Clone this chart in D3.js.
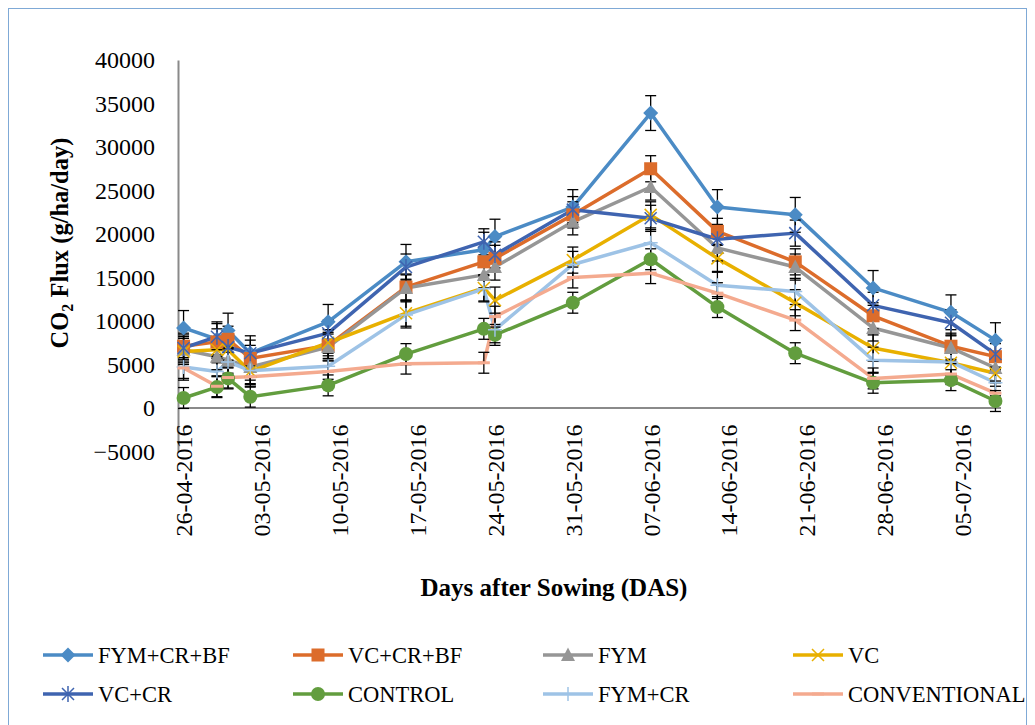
<!DOCTYPE html>
<html>
<head>
<meta charset="utf-8">
<script src="https://cdn.jsdelivr.net/npm/d3@7"></script>
<style>
  html, body { margin: 0; padding: 0; background: #fff; }
  svg { display: block; }
  svg text { font-family: "Liberation Serif", "DejaVu Serif", serif; fill: #000; }
</style>
</head>
<body>
<svg id="chart" width="1035" height="725"></svg>
<script>
// Sampling dates (shared by every treatment)
const dates = ["26-04-2016", "29-04-2016", "30-04-2016", "02-05-2016", "09-05-2016",
  "16-05-2016", "23-05-2016", "24-05-2016", "31-05-2016", "07-06-2016",
  "13-06-2016", "20-06-2016", "27-06-2016", "04-07-2016", "08-07-2016"];

// Axis tick labels
const xTickLabels = ["26-04-2016", "03-05-2016", "10-05-2016", "17-05-2016", "24-05-2016",
  "31-05-2016", "07-06-2016", "14-06-2016", "21-06-2016", "28-06-2016", "05-07-2016"];
const yTicks = [-5000, 0, 5000, 10000, 15000, 20000, 25000, 30000, 35000, 40000];

// Treatment names
const seriesNames = ["FYM+CR+BF", "VC+CR+BF", "FYM", "VC", "VC+CR", "CONTROL", "FYM+CR", "CONVENTIONAL"];

// CO2 flux (g/ha/day) per treatment
const fymCrBf      = [9200, 7900, 8900, 6300, 9900, 16800, 18200, 19700, 23100, 33900, 23100, 22200, 13800, 11000, 7800];
const vcCrBf       = [7100, 7600, 7900, 5700, 7200, 13900, 16800, 17200, 22200, 27500, 20300, 16800, 10600, 7100, 5900];
const fym          = [6700, 5900, 5500, 4700, 7000, 13800, 15300, 16200, 21400, 25400, 18400, 16200, 9200, 6900, 4600];
const vc           = [6500, 6700, 6700, 4200, 7500, 10900, 13800, 12400, 17000, 22200, 17200, 12100, 6900, 5200, 4000];
const vcCr         = [6900, 8200, 7000, 6300, 8600, 16200, 19100, 17600, 22800, 21800, 19400, 20100, 11800, 9800, 6200];
const control      = [1150, 2400, 3400, 1300, 2600, 6200, 9100, 8400, 12100, 17100, 11600, 6300, 2900, 3200, 800];
const fymCr        = [4700, 4200, 5300, 4300, 4800, 10700, 13700, 9000, 16500, 19000, 14100, 13400, 5500, 5300, 2900];
const conventional = [4600, 2500, 3500, 3600, 4200, 5100, 5200, 10500, 15000, 15500, 13200, 10100, 3400, 3900, 1700];

// Error bar half-widths per treatment (g/ha/day)
const errors = [2000, 1500, 1500, 1500, 1500, 1200, 1500, 1200];

const seriesValues = [fymCrBf, vcCrBf, fym, vc, vcCr, control, fymCr, conventional];
const colors = ["#4b8bc5", "#dc6c2b", "#969696", "#e8b000", "#3f64b0", "#629d3e", "#9ec3e6", "#f4aa8f"];
const markers = ["diamond", "square", "triangle", "x", "asterisk", "circle", "plus", "dash"];

const FONT = "'Liberation Serif', 'DejaVu Serif', serif";
const parse = d3.utcParse("%d-%m-%Y");
const fmt = d3.utcFormat("%d-%m-%Y");
const svg = d3.select("#chart");

// Outer frame
svg.append("rect")
  .attr("x", 8.5).attr("y", 8.5).attr("width", 1018).attr("height", 740)
  .attr("fill", "none").attr("stroke", "#7fa9d6").attr("stroke-width", 1);

const firstDay = parse(dates[0]);
const lastDay = parse(dates[dates.length - 1]);
const x = d3.scaleUtc()
  .domain([d3.utcHour.offset(firstDay, -12), d3.utcHour.offset(lastDay, 12)])
  .range([178, 1001]);
const y = d3.scaleLinear().domain([-5000, 40000]).range([451.5, 60]);

// Y axis: line plus labels
const yAxis = svg.append("g").attr("transform", "translate(178,0)")
  .call(d3.axisLeft(y).tickValues(yTicks).tickSize(0).tickPadding(23).tickFormat(d3.format("d")));
yAxis.attr("font-family", FONT).attr("font-size", 24);
yAxis.select(".domain").attr("stroke", "#8a8a8a").attr("stroke-width", 2);
yAxis.selectAll("text").attr("fill", "#000");

// X axis line at zero
svg.append("line")
  .attr("x1", x.range()[0]).attr("x2", x.range()[1])
  .attr("y1", y(0)).attr("y2", y(0))
  .attr("stroke", "#8a8a8a").attr("stroke-width", 2);

// X labels below the plot (rotated)
const xAxis = svg.append("g").attr("transform", `translate(0,${y(-5000) - 27})`)
  .call(d3.axisBottom(x).tickValues(xTickLabels.map(parse)).tickSize(0).tickFormat(fmt));
xAxis.attr("font-family", FONT).attr("font-size", 24);
xAxis.select(".domain").remove();
xAxis.selectAll("text")
  .attr("fill", "#000")
  .attr("transform", "rotate(-90)")
  .attr("text-anchor", "end")
  .attr("x", 0).attr("y", 0).attr("dy", "0.35em");

// Axis titles
svg.append("text")
  .attr("transform", "translate(59,243) rotate(-90)")
  .attr("text-anchor", "middle").attr("dominant-baseline", "central")
  .style("font-size", "24.5px").style("font-weight", "bold")
  .call(t => {
    t.append("tspan").text("CO");
    t.append("tspan").text("2").attr("baseline-shift", "sub").style("font-size", "16px");
    t.append("tspan").text(" Flux (g/ha/day)");
  });

svg.append("text")
  .attr("x", 554).attr("y", 596).attr("text-anchor", "middle")
  .style("font-size", "25px").style("font-weight", "bold")
  .text("Days after Sowing (DAS)");

const series = seriesNames.map((name, i) => ({
  name, color: colors[i], marker: markers[i], err: errors[i],
  points: dates.map((d, j) => ({ date: parse(d), value: seriesValues[i][j] }))
}));

const line = d3.line().x(d => x(d.date)).y(d => y(d.value));

// Lines
svg.append("g").selectAll("path").data(series).join("path")
  .attr("d", s => line(s.points))
  .attr("fill", "none").attr("stroke", s => s.color)
  .attr("stroke-width", 3.5).attr("stroke-linejoin", "round");

// Error bars
const eb = svg.append("g").attr("stroke", "#000").attr("stroke-width", 1.3);
series.forEach(s => {
  s.points.forEach(p => {
    const cx = x(p.date), y1 = y(p.value - s.err), y2 = y(p.value + s.err);
    eb.append("line").attr("x1", cx).attr("x2", cx).attr("y1", y1).attr("y2", y2);
    eb.append("line").attr("x1", cx - 5.5).attr("x2", cx + 5.5).attr("y1", y1).attr("y2", y1);
    eb.append("line").attr("x1", cx - 5.5).attr("x2", cx + 5.5).attr("y1", y2).attr("y2", y2);
  });
});

// Marker drawing
function drawMarker(g, type, color, cx, cy) {
  switch (type) {
    case "diamond":
      g.append("path").attr("d", `M${cx},${cy - 7.5}L${cx + 7.5},${cy}L${cx},${cy + 7.5}L${cx - 7.5},${cy}Z`)
        .attr("fill", color); break;
    case "square":
      g.append("rect").attr("x", cx - 6.5).attr("y", cy - 6.5).attr("width", 13).attr("height", 13)
        .attr("fill", color); break;
    case "triangle":
      g.append("path").attr("d", `M${cx},${cy - 7.5}L${cx + 7},${cy + 6}L${cx - 7},${cy + 6}Z`)
        .attr("fill", color); break;
    case "circle":
      g.append("circle").attr("cx", cx).attr("cy", cy).attr("r", 7).attr("fill", color); break;
    case "x":
      g.append("path").attr("d", `M${cx - 6},${cy - 6}L${cx + 6},${cy + 6}M${cx - 6},${cy + 6}L${cx + 6},${cy - 6}`)
        .attr("stroke", color).attr("stroke-width", 1.5); break;
    case "asterisk":
      g.append("path").attr("d", `M${cx - 6},${cy - 6}L${cx + 6},${cy + 6}M${cx - 6},${cy + 6}L${cx + 6},${cy - 6}M${cx},${cy - 8}L${cx},${cy + 8}`)
        .attr("stroke", color).attr("stroke-width", 1.5); break;
    case "plus":
      g.append("path").attr("d", `M${cx - 7},${cy}L${cx + 7},${cy}M${cx},${cy - 7}L${cx},${cy + 7}`)
        .attr("stroke", color).attr("stroke-width", 1.5); break;
    case "dash":
      g.append("path").attr("d", `M${cx - 6},${cy}L${cx + 6},${cy}`)
        .attr("stroke", color).attr("stroke-width", 3); break;
  }
}

// Markers
const mk = svg.append("g");
series.forEach(s => {
  s.points.forEach(p => drawMarker(mk, s.marker, s.color, x(p.date), y(p.value)));
});

// Legend: two rows of four
const legend = svg.append("g");
series.forEach((s, i) => {
  const col = i % 4, row = Math.floor(i / 4);
  const lx = 43 + col * 250, ly = 655 + row * 39;
  const g = legend.append("g");
  g.append("line").attr("x1", lx).attr("x2", lx + 50).attr("y1", ly).attr("y2", ly)
    .attr("stroke", s.color).attr("stroke-width", 3.5);
  drawMarker(g, s.marker, s.color, lx + 25, ly);
  g.append("text").attr("x", lx + 55).attr("y", ly).attr("dy", "0.35em")
    .attr("font-family", FONT).style("font-size", "22.5px").text(s.name);
});
</script>
</body>
</html>
